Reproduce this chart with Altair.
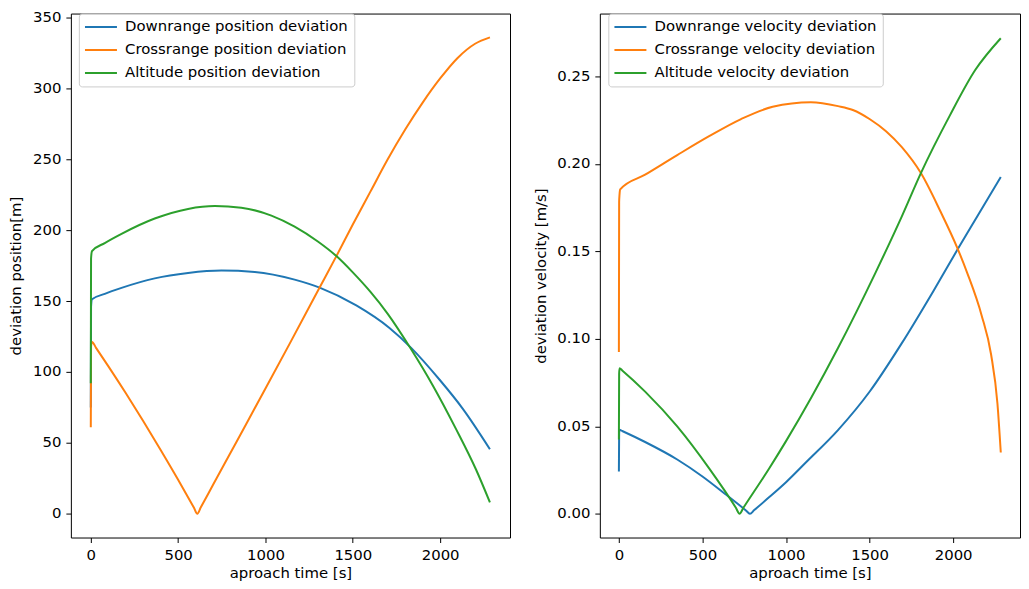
import altair as alt
import pandas as pd

# ---------------- Position deviations (left panel) ----------------
pos_down_t = [0, 1.5, 7, 80, 176, 366, 557, 748, 939, 1167, 1310, 1520, 1710, 1834, 1997, 2130, 2285]
pos_down_v = [75, 146, 151.2, 155.1, 159.3, 166, 169.8, 171.5, 170.5, 165.1, 159.5, 146.9, 131, 117, 94.5, 74, 45.5]

pos_cross_t = [0, 1.5, 7, 30, 100, 200, 300, 400, 500, 590, 610, 630, 700, 800, 900, 1000, 1138, 1310, 1406,
               1500, 1600, 1700, 1800, 1900, 2000, 2100, 2200, 2285]
pos_cross_v = [61, 118, 121.2, 117, 104.1, 85.1, 65.4, 45, 24, 4.4, 0, 4.5, 20.4, 43, 65.6, 88.3, 119.8, 159.5,
               181.7, 204, 227, 250, 271, 290, 307, 321.5, 331.5, 336]

pos_alt_t = [0, 1.5, 7, 80, 176, 366, 557, 710, 862, 1034, 1167, 1300, 1406, 1500, 1600, 1700,
             1834, 1958, 2092, 2206, 2285]
pos_alt_v = [92, 180, 185.2, 190.9, 197.4, 208.2, 215, 217, 215.8, 210.3, 202.5, 192, 181.7, 170.2, 156.6, 141,
             116, 90.5, 59.5, 31, 8]

# ---------------- Velocity deviations (right panel) ----------------
vel_down_t = [0, 1.5, 4, 20, 157, 349, 500, 636, 760, 784, 810, 900, 1000, 1120, 1311, 1502, 1693, 1883,
              2026, 2151, 2285]
vel_down_v = [0.0241, 0.046, 0.048, 0.0473, 0.041, 0.031, 0.0213, 0.0113, 0.0019, 0.0, 0.0021, 0.0095,
              0.018, 0.0294, 0.0478, 0.070, 0.0975, 0.1275, 0.151, 0.171, 0.1925]

vel_cross_t = [0, 1.5, 4, 8, 157, 349, 540, 731, 920, 1149, 1311, 1400, 1502, 1600, 1693, 1807, 1922, 2026,
               2084, 2170, 2227, 2265, 2285]
vel_cross_v = [0.0925, 0.178, 0.1826, 0.1854, 0.1938, 0.205, 0.2158, 0.2256, 0.2326, 0.2352, 0.233,
               0.2308, 0.2255, 0.2185, 0.2095, 0.1947, 0.1732, 0.1517, 0.1377, 0.1135, 0.091, 0.063, 0.035]

vel_alt_t = [0, 1.5, 4, 20, 157, 349, 540, 700, 722, 745, 900, 1000, 1153, 1311, 1535, 1693, 1807, 1979,
             2132, 2285]
vel_alt_v = [0.0424, 0.080, 0.0832, 0.0819, 0.0698, 0.0499, 0.0259, 0.0034, 0.0, 0.0034, 0.026, 0.0415,
             0.0667, 0.0947, 0.1377, 0.170, 0.1947, 0.2274, 0.2536, 0.2718]

pos_names = ["Downrange position deviation", "Crossrange position deviation", "Altitude position deviation"]
vel_names = ["Downrange velocity deviation", "Crossrange velocity deviation", "Altitude velocity deviation"]
colors = ["#1f77b4", "#ff7f0e", "#2ca02c"]
x_ticks = [0, 500, 1000, 1500, 2000]
pos_ticks = [0, 50, 100, 150, 200, 250, 300, 350]
vel_ticks = [0.0, 0.05, 0.10, 0.15, 0.20, 0.25]


def long_df(series):
    rows = []
    for name, ts, vs in series:
        for t, v in zip(ts, vs):
            rows.append({"series": name, "t": t, "v": v})
    return pd.DataFrame(rows)


pos_df = long_df([(pos_names[0], pos_down_t, pos_down_v),
                  (pos_names[1], pos_cross_t, pos_cross_v),
                  (pos_names[2], pos_alt_t, pos_alt_v)])
vel_df = long_df([(vel_names[0], vel_down_t, vel_down_v),
                  (vel_names[1], vel_cross_t, vel_cross_v),
                  (vel_names[2], vel_alt_t, vel_alt_v)])

FONT = "DejaVu Sans"
FS = 14.9
H = 525


def panel(df, names, ytitle, ydomain, yticks, yfmt, width, lx):
    legend = alt.Legend(
        title=None, orient="none", legendX=lx, legendY=0, padding=6,
        symbolType="M-3,0L3,0", symbolSize=114, symbolStrokeWidth=2,
        symbolOffset=8.7, labelOffset=16.7, labelFontSize=FS, labelFont=FONT,
        labelColor="#000000", labelLimit=500, rowPadding=7,
        fillColor="rgba(255,255,255,0.8)", strokeColor="#cccccc", cornerRadius=3,
    )
    return alt.Chart(df).mark_line(strokeWidth=2, interpolate="monotone").encode(
        x=alt.X("t:Q", scale=alt.Scale(domain=[-114, 2400], nice=False, zero=False),
                axis=alt.Axis(values=x_ticks, format="d", title="aproach time [s]", titlePadding=3.5)),
        y=alt.Y("v:Q", scale=alt.Scale(domain=ydomain, nice=False, zero=False),
                axis=alt.Axis(values=yticks, format=yfmt, title=ytitle, titlePadding=8.7)),
        color=alt.Color("series:N", scale=alt.Scale(domain=names, range=colors), sort=names, legend=legend),
    ).properties(width=width, height=H)


left = panel(pos_df, pos_names, "deviation position[m]", [-16.8, 352.8], pos_ticks, "d", 440, 8)
right = panel(vel_df, vel_names, "deviation velocity [m/s]", [-0.0136, 0.2859], vel_ticks, ".2f", 421, 8.5)

chart = alt.hconcat(left, right, spacing=21).resolve_scale(color="independent").properties(
    padding={"left": 0, "top": 0, "right": 0, "bottom": 0}
).configure(font=FONT).configure_view(
    stroke="#000000", strokeWidth=1
).configure_axis(
    domain=False, grid=False, tickColor="#000000", tickSize=5, tickWidth=1,
    labelPadding=5, labelFontSize=FS, labelColor="#000000", labelFont=FONT,
    titleFontSize=FS, titleFont=FONT, titleFontWeight="normal", titleColor="#000000",
)

chart.save("out.html", embed_options={"renderer": "svg", "actions": False})
